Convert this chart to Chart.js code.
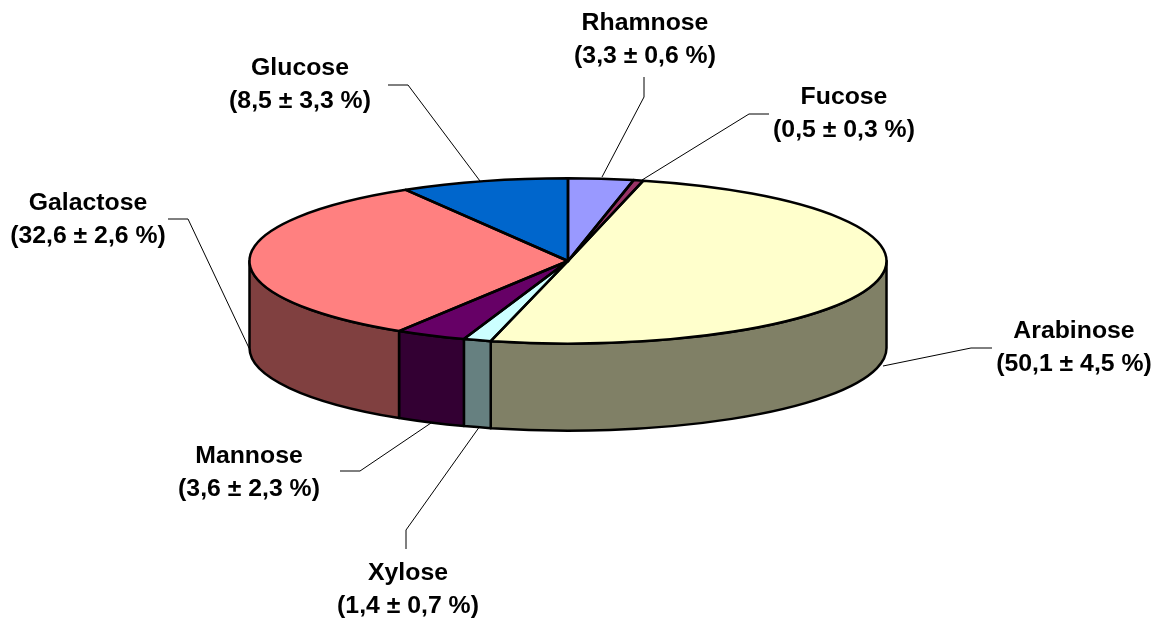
<!DOCTYPE html>
<html>
<head>
<meta charset="utf-8">
<style>html,body{margin:0;padding:0;background:#fff}canvas{display:block}</style>
<script src="https://cdn.jsdelivr.net/npm/chart.js@4"></script>
</head>
<body>
<canvas id="c" width="1161" height="621"></canvas>
<script>
const categories = ["Rhamnose", "Fucose", "Arabinose", "Xylose", "Mannose", "Galactose", "Glucose"];
const values = [3.3, 0.5, 50.1, 1.4, 3.6, 32.6, 8.5];
const errors = [0.6, 0.3, 4.5, 0.7, 2.3, 2.6, 3.3];
const topColors = ["#9999FF", "#993366", "#FFFFCC", "#CCFFFF", "#660066", "#FF8080", "#0066CC"];
const sideColors = ["#4D4D80", "#4D1A33", "#808066", "#668080", "#330033", "#804040", "#003366"];

// Presentation only: projection of the pie and placement of its callouts
const tilt = 0.2595;
const depth = 87;
const pieRadius = 318.5;
const lineGap = 32.5;
const outlineWidth = 2.5;
const callouts = [
  {cx: 645,  y: 30,  leader: [[644, 77], [644, 97], [602, 177]]},
  {cx: 844,  y: 104, leader: [[769, 114], [749, 114], [642, 180]]},
  {cx: 1074, y: 338, leader: [[992, 348], [971, 348], [883, 366]]},
  {cx: 408,  y: 580, leader: [[406, 549], [406, 530], [480, 426]]},
  {cx: 249,  y: 463, leader: [[340, 471], [360, 471], [431, 423]]},
  {cx: 88,   y: 210, leader: [[168, 219], [188, 219], [249, 348]]},
  {cx: 300,  y: 75,  leader: [[388, 85], [408, 85], [480, 181]]}
];

const pseudo3d = {
  id: 'pseudo3d',
  beforeDatasetDraw(chart) {
    const ctx = chart.ctx, arcs = chart.getDatasetMeta(0).data;
    ctx.save();
    ctx.lineWidth = outlineWidth; ctx.strokeStyle = '#000'; ctx.lineJoin = 'round';
    arcs.forEach((a, i) => {
      const rx = a.outerRadius, ry = rx * tilt;
      // only the front half of the rim (canvas angles 0..PI) is visible
      const s = Math.max(a.startAngle, 0), e = Math.min(a.endAngle, Math.PI);
      if (e <= s) return;
      ctx.beginPath();
      ctx.ellipse(a.x, a.y, rx, ry, 0, s, e);
      ctx.ellipse(a.x, a.y + depth, rx, ry, 0, e, s, true);
      ctx.closePath();
      ctx.fillStyle = sideColors[i];
      ctx.fill(); ctx.stroke();
    });
    ctx.restore();
    const a0 = arcs[0];
    ctx.save();
    ctx.translate(0, a0.y); ctx.scale(1, tilt); ctx.translate(0, -a0.y);
  },
  afterDatasetDraw(chart) {
    const ctx = chart.ctx, arcs = chart.getDatasetMeta(0).data;
    ctx.restore();
    ctx.save();
    ctx.lineWidth = outlineWidth; ctx.strokeStyle = '#000'; ctx.lineJoin = 'round';
    arcs.forEach(a => {
      const rx = a.outerRadius, ry = rx * tilt;
      ctx.beginPath();
      ctx.moveTo(a.x, a.y);
      ctx.ellipse(a.x, a.y, rx, ry, 0, a.startAngle, a.endAngle);
      ctx.closePath();
      ctx.stroke();
    });
    ctx.restore();
  },
  afterDraw(chart) {
    const ctx = chart.ctx;
    ctx.save();
    ctx.strokeStyle = '#000'; ctx.lineWidth = 1;
    callouts.forEach(c => {
      ctx.beginPath();
      c.leader.forEach((p, j) => j ? ctx.lineTo(p[0], p[1]) : ctx.moveTo(p[0], p[1]));
      ctx.stroke();
    });
    ctx.fillStyle = '#000';
    ctx.font = 'bold 24.8px "Liberation Sans", Arial, sans-serif';
    ctx.textAlign = 'center'; ctx.textBaseline = 'alphabetic';
    const dec = n => n.toFixed(1).replace('.', ',');
    callouts.forEach((c, i) => {
      ctx.fillText(categories[i], c.cx, c.y);
      ctx.fillText('(' + dec(values[i]) + ' ± ' + dec(errors[i]) + ' %)', c.cx, c.y + lineGap);
    });
    ctx.restore();
  }
};

new Chart(document.getElementById('c'), {
  type: 'pie',
  data: {
    labels: categories,
    datasets: [{data: values, backgroundColor: topColors, borderWidth: 0, clip: false}]
  },
  options: {
    responsive: false,
    animation: false,
    radius: pieRadius,
    layout: {padding: {right: 25, bottom: 99}},
    plugins: {legend: {display: false}, tooltip: {enabled: false}, title: {display: false}}
  },
  plugins: [pseudo3d]
});
</script>
</body>
</html>
